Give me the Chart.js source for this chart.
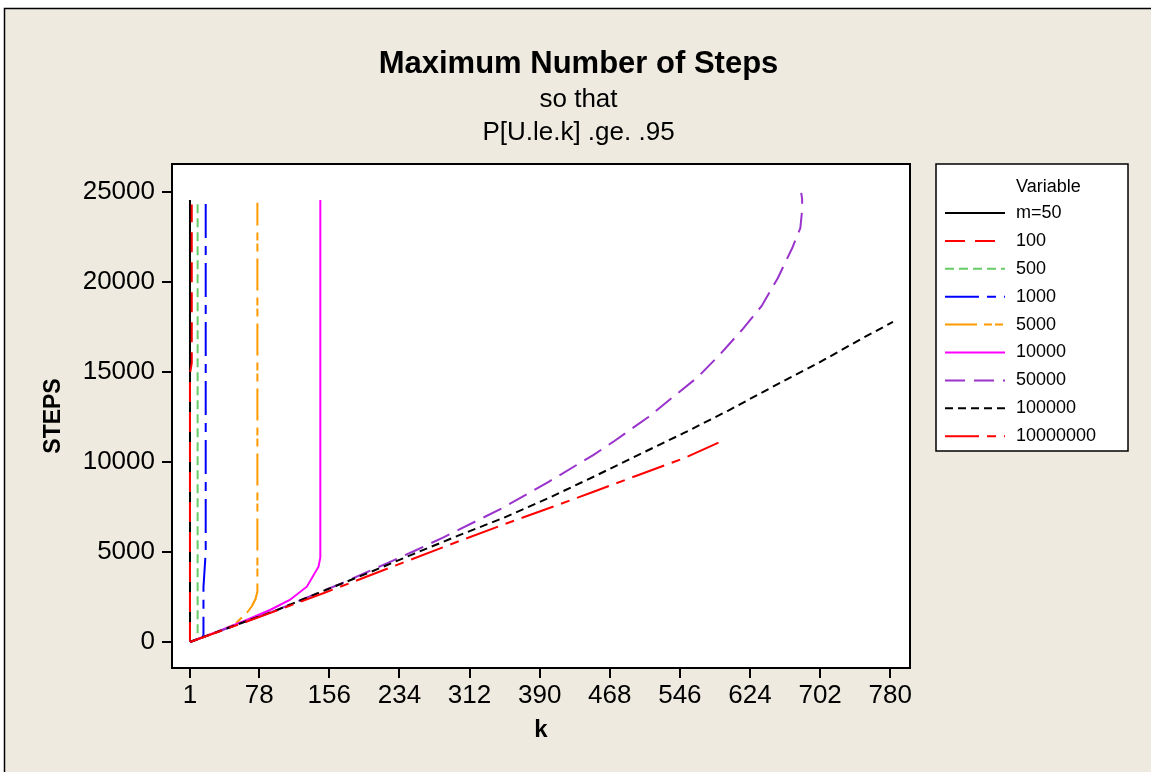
<!DOCTYPE html>
<html>
<head>
<meta charset="utf-8">
<script src="https://cdn.jsdelivr.net/npm/chart.js@4.4.1/dist/chart.umd.min.js"></script>
<style>
  html, body { margin: 0; padding: 0; background: #ffffff; overflow: hidden; }
  #wrap { width: 1151px; height: 772px; position: relative; }
</style>
</head>
<body>
<div id="wrap"><canvas id="steps_chart"></canvas></div>
<script>
// series names (legend order)
const legendLabels = ['m=50', '100', '500', '1000', '5000', '10000', '50000', '100000', '10000000'];

// k / STEPS, one pair of arrays per series
const kM50 = [1, 1];
const stepsM50 = [0, 24560];

const k100 = [1, 1, 3, 3];
const steps100 = [0, 14900, 15500, 24300];

const k500 = [1, 9.5, 9.5];
const steps500 = [0, 170, 24400];

const k1000 = [1, 15, 16, 16, 18.5, 18.5];
const steps1000 = [0, 270, 390, 3050, 5000, 24550];

const k5000 = [1, 30, 50, 64, 70, 74, 76, 76];
const steps5000 = [0, 540, 950, 1600, 2000, 2400, 2800, 24400];

const k10000 = [1, 30, 64, 90, 112, 131, 144, 146, 146];
const steps10000 = [0, 540, 1222, 1778, 2333, 3074, 4185, 4700, 24550];

const k50000 = [1, 50, 100, 150, 168, 220, 253, 283, 348, 400, 450, 472, 511, 537, 566, 591, 615, 637, 655, 671, 680, 682, 682, 681];
const steps50000 = [0, 900, 1830, 2860, 3222, 4370, 5111, 5815, 7426, 8900, 10400, 11128, 12500, 13556, 14722, 16000, 17333, 18667, 20222, 21889, 23000, 24000, 24600, 24950];

const k100000 = [1, 50, 100, 150, 200, 250, 300, 350, 400, 450, 500, 550, 600, 650, 700, 750, 783];
const steps100000 = [0, 900, 1820, 2850, 3850, 4900, 5920, 6900, 8000, 9180, 10400, 11600, 12860, 14200, 15500, 16900, 17780];

const k10000000 = [1, 20, 50, 100, 150, 200, 250, 300, 350, 400, 450, 500, 550, 590];
const steps10000000 = [0, 340, 880, 1790, 2720, 3680, 4640, 5600, 6530, 7430, 8350, 9280, 10200, 11100];

// axis ticks
const xTicks = [1, 78, 156, 234, 312, 390, 468, 546, 624, 702, 780];
const yTicks = [0, 5000, 10000, 15000, 20000, 25000];

const seriesK = [kM50, k100, k500, k1000, k5000, k10000, k50000, k100000, k10000000];
const seriesSteps = [stepsM50, steps100, steps500, steps1000, steps5000, steps10000, steps50000, steps100000, steps10000000];

// styles
const lineColors = ['#000000', '#ff0000', '#66cc66', '#0000ff', '#ff9900', '#ff00ff', '#9933cc', '#000000', '#ff0000'];
const lineDashes = [[], [20, 10], [9, 5], [34, 8, 9, 8], [32, 7, 8, 3, 8, 7], [], [20, 9], [8, 5], [34, 8, 9, 8]];
const FONT = "'Liberation Sans', Arial, sans-serif";

const datasets = legendLabels.map((label, i) => ({
  label: label,
  data: seriesK[i].map((k, j) => ({ x: k, y: seriesSteps[i][j] })),
  borderColor: lineColors[i],
  backgroundColor: lineColors[i],
  borderDash: lineDashes[i],
  borderWidth: 2,
  showLine: true,
  pointRadius: 0,
  fill: false,
  tension: 0,
  order: legendLabels.length - i // last series on top, like the original
}));

// beige frame, white plot area, plot border and the boxed legend
const frameAndLegend = {
  id: 'frameAndLegend',
  beforeDraw(chart) {
    const { ctx, width, height, chartArea: a } = chart;
    ctx.save();
    ctx.fillStyle = '#ffffff';
    ctx.fillRect(0, 0, width, height);
    ctx.fillStyle = '#eeeae0';
    ctx.fillRect(4, 8, width - 4, height - 8);
    ctx.strokeStyle = '#000000';
    ctx.lineWidth = 1.5;
    ctx.beginPath();
    ctx.moveTo(4.5, height);
    ctx.lineTo(4.5, 8.5);
    ctx.lineTo(width, 8.5);
    ctx.stroke();
    ctx.fillStyle = '#ffffff';
    ctx.fillRect(a.left, a.top, a.right - a.left, a.bottom - a.top);
    ctx.restore();
  },
  afterDraw(chart) {
    const { ctx, chartArea: a } = chart;
    ctx.save();
    ctx.strokeStyle = '#000000';
    ctx.lineWidth = 2;
    ctx.strokeRect(a.left, a.top, a.right - a.left, a.bottom - a.top);

    // legend box
    const bx = 936, by = a.top, bw = 192, bh = 287;
    ctx.fillStyle = '#ffffff';
    ctx.fillRect(bx, by, bw, bh);
    ctx.lineWidth = 1.5;
    ctx.strokeRect(bx, by, bw, bh);

    ctx.font = '18px ' + FONT;
    ctx.fillStyle = '#000000';
    ctx.textAlign = 'left';
    ctx.textBaseline = 'middle';
    ctx.fillText('Variable', 1016, 187);
    chart.data.datasets.forEach((ds, i) => {
      const y = 213 + i * 27.9;
      ctx.strokeStyle = ds.borderColor;
      ctx.lineWidth = 2;
      ctx.setLineDash(ds.borderDash);
      ctx.beginPath();
      ctx.moveTo(945, y);
      ctx.lineTo(1005, y);
      ctx.stroke();
      ctx.setLineDash([]);
      ctx.fillStyle = '#000000';
      ctx.fillText(ds.label, 1016, y);
    });
    ctx.restore();
  }
};

const ctx = document.getElementById('steps_chart').getContext('2d');

const cfg = {
  type: 'scatter',
  data: { datasets: datasets },
  options: {
    responsive: true,
    maintainAspectRatio: false,
    animation: false,
    layout: { padding: { left: 6, right: 0, top: 0, bottom: 0 } },
    plugins: {
      legend: { display: false },
      tooltip: { enabled: false },
      title: {
        display: true,
        text: 'Maximum Number of Steps',
        color: '#000000',
        font: { family: FONT, size: 31, weight: 'bold', lineHeight: 1.2 },
        padding: { top: 46, bottom: 0.5 }
      },
      subtitle: {
        display: true,
        text: ['so that', 'P[U.le.k] .ge. .95'],
        color: '#000000',
        font: { family: FONT, size: 26, weight: 'normal', lineHeight: 33 / 26 },
        padding: { top: 0, bottom: 14.3 }
      }
    },
    scales: {
      x: {
        type: 'linear',
        position: 'bottom',
        min: -19,
        max: 802,
        afterBuildTicks: s => { s.ticks = xTicks.map(v => ({ value: v })); },
        afterFit: s => { s.height = 104; },
        ticks: {
          color: '#000000',
          font: { family: FONT, size: 26 },
          padding: 2,
          maxRotation: 0,
          autoSkip: false,
          callback: v => String(v)
        },
        grid: { display: true, drawOnChartArea: false, drawTicks: true, tickLength: 10, color: '#000000', lineWidth: 2 },
        border: { display: true, color: '#000000', width: 2 },
        title: {
          display: true,
          text: 'k',
          color: '#000000',
          font: { family: FONT, size: 24, weight: 'bold', lineHeight: 1.2 },
          padding: { top: 0, bottom: 27 }
        }
      },
      y: {
        type: 'linear',
        position: 'left',
        min: -1444,
        max: 26556,
        afterBuildTicks: s => { s.ticks = yTicks.map(v => ({ value: v })); },
        afterFit: s => { s.width = 166; },
        ticks: {
          color: '#000000',
          font: { family: FONT, size: 26 },
          padding: 7,
          autoSkip: false,
          callback: v => String(v)
        },
        grid: { display: true, drawOnChartArea: false, drawTicks: true, tickLength: 10, color: '#000000', lineWidth: 2 },
        border: { display: true, color: '#000000', width: 2 },
        title: {
          display: true,
          text: 'STEPS',
          color: '#000000',
          font: { family: FONT, size: 23, weight: 'bold', lineHeight: 1.2 },
          padding: { top: 34, bottom: 0 }
        }
      },
      // empty axis that keeps room on the right for the legend box
      y2: {
        type: 'linear',
        position: 'right',
        display: true,
        afterFit: s => { s.width = 241; },
        ticks: { display: false },
        grid: { display: false },
        border: { display: false }
      }
    }
  },
  plugins: [frameAndLegend]
};

const stepsChart = new Chart(ctx, cfg);
</script>
</body>
</html>
